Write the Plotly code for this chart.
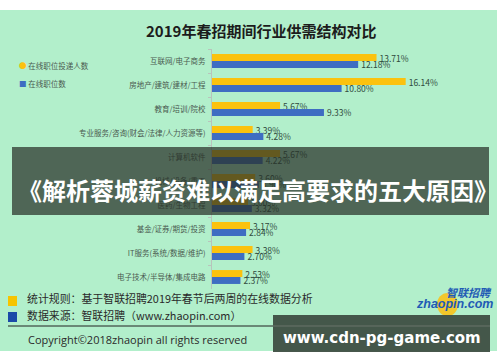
import plotly.graph_objects as go

categories = ["互联网/电子商务", "房地产/建筑/建材/工程", "教育/培训/院校",
              "专业服务/咨询(财会/法律/人力资源等)", "计算机软件", "机械/设备/重工",
              "医药/生物工程", "基金/证券/期货/投资", "IT服务(系统/数据/维护)",
              "电子技术/半导体/集成电路"]
applicants = [13.71, 16.14, 5.67, 3.39, 5.67, 3.60, 3.00, 3.17, 3.38, 2.53]
positions = [12.18, 10.80, 9.33, 4.28, 4.22, 3.90, 3.32, 2.84, 2.70, 2.37]
series_names = ["在线职位投递人数", "在线职位数"]

W, H = 500, 362
def px(x): return x / W
def py(y): return 1 - y / H

FONT = "Noto Sans CJK SC"
YEL = "#fbc20e"
BLU = "#3e6dc2"
BG = "#b2efcb"
TXT = "#2f4a3c"

fig = go.Figure()
fig.add_trace(go.Bar(y=categories, x=applicants, orientation="h", name=series_names[0],
                     marker=dict(color=YEL, line=dict(width=0)),
                     text=[f"{v:.2f}%" for v in applicants], textposition="outside",
                     constraintext="none",
                     textfont=dict(size=8.5, color=TXT, family=FONT), cliponaxis=False))
fig.add_trace(go.Bar(y=categories, x=positions, orientation="h", name=series_names[1],
                     marker=dict(color=BLU, line=dict(width=0)),
                     text=[f"{v:.2f}%" for v in positions], textposition="outside",
                     constraintext="none",
                     textfont=dict(size=8.5, color=TXT, family=FONT), cliponaxis=False))

x0, x1 = 212, 470
fig.update_layout(
    width=W, height=H, margin=dict(l=0, r=0, t=0, b=0),
    paper_bgcolor="white", plot_bgcolor="rgba(0,0,0,0)",
    barmode="group", bargap=0.42, bargroupgap=0.0,
    showlegend=False,
    xaxis=dict(domain=[px(x0), px(x1)], range=[0, (x1 - x0) / 12.0], visible=False),
    yaxis=dict(domain=[py(289), py(49)], autorange="reversed", type="category",
               showline=True, linecolor="#b8c4bc", linewidth=1,
               ticks="outside", ticklen=3, tickcolor="#b8c4bc", tickson="boundaries",
               tickfont=dict(size=7.5, color="#4a5a50", family=FONT), showgrid=False,
               ticklabelstandoff=4),
    font=dict(family=FONT),
)

shapes = []
shapes.append(dict(type="rect", xref="paper", yref="paper", x0=0, x1=px(497), y0=py(351), y1=py(10),
                   fillcolor=BG, line=dict(width=0), layer="below"))
shapes.append(dict(type="rect", xref="paper", yref="paper", x0=px(8), x1=px(17), y0=py(306), y1=py(296),
                   fillcolor="#f6c400", line=dict(width=0)))
shapes.append(dict(type="rect", xref="paper", yref="paper", x0=px(8), x1=px(17), y0=py(322), y1=py(312),
                   fillcolor="#1a4aa8", line=dict(width=0)))
shapes.append(dict(type="line", xref="paper", yref="paper", x0=px(8), x1=px(490), y0=py(326), y1=py(326),
                   line=dict(color="#222222", width=1)))
shapes.append(dict(type="circle", xref="paper", yref="paper", x0=px(437), x1=px(458), y0=py(316), y1=py(293),
                   fillcolor="#f8c21a", line=dict(width=0), opacity=0.9))
shapes.append(dict(type="rect", xref="paper", yref="paper", x0=px(12), x1=px(489), y0=py(215), y1=py(147),
                   fillcolor="rgba(40,48,40,0.72)", line=dict(width=0), layer="above"))
shapes.append(dict(type="rect", xref="paper", yref="paper", x0=px(273), x1=px(490), y0=py(352), y1=py(315),
                   fillcolor="rgba(62,78,66,0.95)", line=dict(width=0), layer="above"))
shapes.append(dict(type="line", xref="paper", yref="paper", x0=px(273), x1=px(490), y0=py(326), y1=py(326),
                   line=dict(color="rgba(140,150,140,0.6)", width=1), layer="above"))
fig.update_layout(shapes=shapes)

ann = []
ann.append(dict(text="<b>2019年春招期间行业供需结构对比</b>", x=px(261), y=py(30), xref="paper", yref="paper",
                showarrow=False, font=dict(size=15, color="#1c1c1c", family=FONT), xanchor="center", yanchor="middle"))
ann.append(dict(text=f"<span style='color:{YEL}'>●</span> {series_names[0]}", x=px(17), y=py(66),
                xref="paper", yref="paper", showarrow=False, xanchor="left", yanchor="middle",
                font=dict(size=7.5, color="#4a5a50", family=FONT)))
ann.append(dict(text=f"<span style='color:{BLU}'>■</span> {series_names[1]}", x=px(17), y=py(83),
                xref="paper", yref="paper", showarrow=False, xanchor="left", yanchor="middle",
                font=dict(size=7.5, color="#4a5a50", family=FONT)))
ann.append(dict(text="统计规则：基于智联招聘2019年春节后两周的在线数据分析", x=px(25), y=py(298),
                xref="paper", yref="paper", showarrow=False, xanchor="left", yanchor="middle",
                font=dict(size=10.9, color="#2a2a2a", family=FONT)))
ann.append(dict(text="数据来源：智联招聘（www.zhaopin.com）", x=px(25), y=py(315),
                xref="paper", yref="paper", showarrow=False, xanchor="left", yanchor="middle",
                font=dict(size=10.9, color="#2a2a2a", family=FONT)))
ann.append(dict(text="Copyright©2018zhaopin all rights reserved", x=px(26), y=py(339),
                xref="paper", yref="paper", showarrow=False, xanchor="left", yanchor="middle",
                font=dict(size=11, color="#2a2a2a", family="Open Sans")))
ann.append(dict(text="<b><i>智联招聘</i></b>", x=px(494), y=py(292), xref="paper", yref="paper",
                showarrow=False, xanchor="right", yanchor="middle",
                font=dict(size=11, color="#1f5bb5", family=FONT)))
ann.append(dict(text="<b><i>zhaopin.com</i></b>", x=px(495), y=py(304), xref="paper", yref="paper",
                showarrow=False, xanchor="right", yanchor="middle",
                font=dict(size=12.5, color="#1f5bb5", family="Liberation Sans")))
ann.append(dict(text="<b>《解析蓉城薪资难以满足高要求的五大原因》</b>", x=px(258), y=py(189),
                xref="paper", yref="paper", showarrow=False, xanchor="center", yanchor="middle",
                font=dict(size=24, color="white", family=FONT)))
ann.append(dict(text="<b>www.cdn-pg-game.com</b>", x=px(382), y=py(338),
                xref="paper", yref="paper", showarrow=False, xanchor="center", yanchor="middle",
                font=dict(size=15, color="white", family="DejaVu Sans")))
fig.update_layout(annotations=ann)

fig.write_html("out.html", config={"displayModeBar": False},
               post_script="document.body.style.margin='0';")
